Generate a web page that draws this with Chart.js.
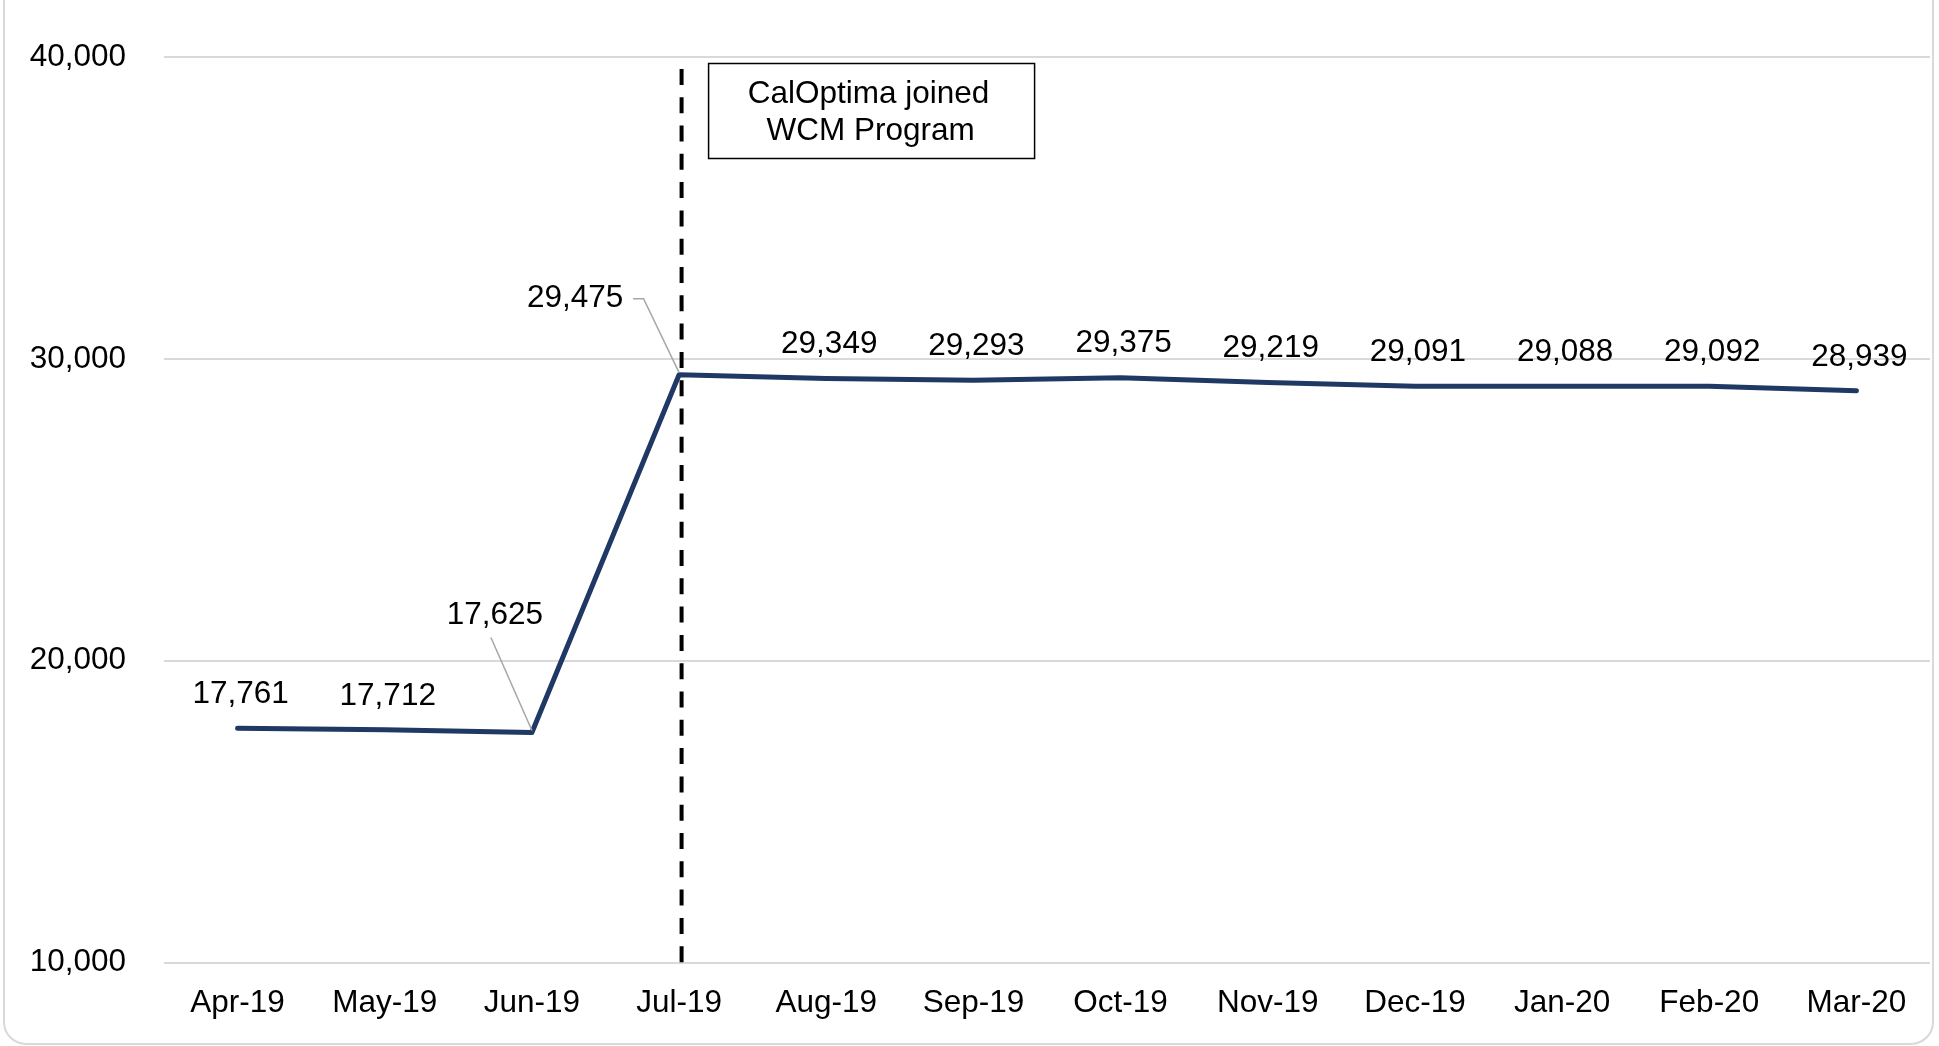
<!DOCTYPE html>
<html><head><meta charset="utf-8">
<script src="https://cdn.jsdelivr.net/npm/chart.js@4.4.0/dist/chart.umd.min.js"></script>
<style>html,body{margin:0;padding:0;background:#fff;overflow:hidden}canvas{display:block}</style>
</head><body>
<canvas id="c" width="1939" height="1046"></canvas>
<script>
const categories = ['Apr-19','May-19','Jun-19','Jul-19','Aug-19','Sep-19','Oct-19','Nov-19','Dec-19','Jan-20','Feb-20','Mar-20'];
const enrollment = [17761,17712,17625,29475,29349,29293,29375,29219,29091,29088,29092,28939];
const yTicks = [10000,20000,30000,40000];
const annotationText = ['CalOptima joined','WCM Program'];
const annotationCategory = 'Jul-19';

const FONT = '"Liberation Sans", Arial, sans-serif';
const FS = 31.5;
const fmt = v => Number(v).toLocaleString('en-US');

const frame = {
  id: 'frame',
  beforeDraw(chart) {
    const ctx = chart.ctx;
    ctx.save();
    ctx.fillStyle = '#fff';
    ctx.fillRect(0, 0, chart.width, chart.height);
    ctx.strokeStyle = '#d9d9d9';
    ctx.lineWidth = 2;
    ctx.beginPath();
    ctx.roundRect(4, -40, 1929, 1084, 22);
    ctx.stroke();
    ctx.restore();
  }
};

const labelCfg = {
  dflt: {dx: 3, dy: -34},
  special: {
    2: {dx: -37, dy: -117, leader: [[-4, 22]]},
    3: {dx: -104, dy: -76, leader: [[58, 0], [68.5, 0]]}
  }
};

const dataLabels = {
  id: 'dataLabels',
  afterDatasetsDraw(chart) {
    const ctx = chart.ctx;
    const meta = chart.getDatasetMeta(0);
    const vals = chart.data.datasets[0].data;
    ctx.save();
    ctx.font = FS + 'px ' + FONT;
    ctx.fillStyle = '#000';
    ctx.textAlign = 'center';
    ctx.textBaseline = 'middle';
    meta.data.forEach((pt, i) => {
      const c = labelCfg.special[i] || labelCfg.dflt;
      const lx = pt.x + c.dx, ly = pt.y + c.dy;
      ctx.fillText(fmt(vals[i]), lx, ly);
      if (c.leader) {
        ctx.strokeStyle = '#a6a6a6';
        ctx.lineWidth = 1.5;
        ctx.beginPath();
        c.leader.forEach((p, k) => {
          if (k === 0) ctx.moveTo(lx + p[0], ly + p[1]); else ctx.lineTo(lx + p[0], ly + p[1]);
        });
        ctx.lineTo(pt.x, pt.y - 2);
        ctx.stroke();
      }
    });
    ctx.restore();
  }
};

const annotation = {
  id: 'annotation',
  afterDatasetsDraw(chart) {
    const ctx = chart.ctx;
    const xs = chart.scales.x, area = chart.chartArea;
    const x = xs.getPixelForValue(categories.indexOf(annotationCategory)) + 2.5;
    ctx.save();
    ctx.strokeStyle = '#000';
    ctx.lineWidth = 4;
    ctx.setLineDash([16, 12.3]);
    ctx.beginPath();
    ctx.moveTo(x, area.top + 12);
    ctx.lineTo(x, area.bottom + 8);
    ctx.stroke();
    ctx.setLineDash([]);
    const bx = x + 27, by = 63.5, bw = 326, bh = 95;
    ctx.fillStyle = '#fff';
    ctx.fillRect(bx, by, bw, bh);
    ctx.lineWidth = 1.5;
    ctx.strokeRect(bx, by, bw, bh);
    ctx.fillStyle = '#000';
    ctx.font = FS + 'px ' + FONT;
    ctx.textAlign = 'center';
    ctx.textBaseline = 'middle';
    ctx.fillText(annotationText[0], bx + bw / 2 - 3, by + 31);
    ctx.fillText(annotationText[1], bx + bw / 2 - 1, by + 68);
    ctx.restore();
  }
};

new Chart(document.getElementById('c'), {
  type: 'line',
  data: {
    labels: categories,
    datasets: [{
      data: enrollment,
      borderColor: '#1F3864',
      borderWidth: 5,
      borderCapStyle: 'round',
      borderJoinStyle: 'round',
      pointRadius: 0,
      tension: 0,
      fill: false
    }]
  },
  options: {
    responsive: false,
    animation: false,
    layout: {padding: {left: 0, right: 9, top: 55, bottom: 0}},
    plugins: {legend: {display: false}, tooltip: {enabled: false}},
    scales: {
      x: {
        offset: true,
        grid: {display: false, drawTicks: false},
        border: {display: false},
        ticks: {color: '#000', font: {family: FONT, size: FS}, padding: 21.5, maxRotation: 0, autoSkip: false},
        afterFit(s) { s.height = 83.3; }
      },
      y: {
        min: 10000, max: 40000,
        afterBuildTicks(s) { s.ticks = yTicks.map(v => ({value: v})); },
        grid: {color: '#d9d9d9', lineWidth: 2, drawTicks: false},
        border: {display: false},
        ticks: {color: '#000', font: {family: FONT, size: FS}, padding: 38, callback: v => fmt(v)},
        afterFit(s) { s.width = 164; }
      }
    }
  },
  plugins: [frame, annotation, dataLabels]
});
</script>
</body></html>
